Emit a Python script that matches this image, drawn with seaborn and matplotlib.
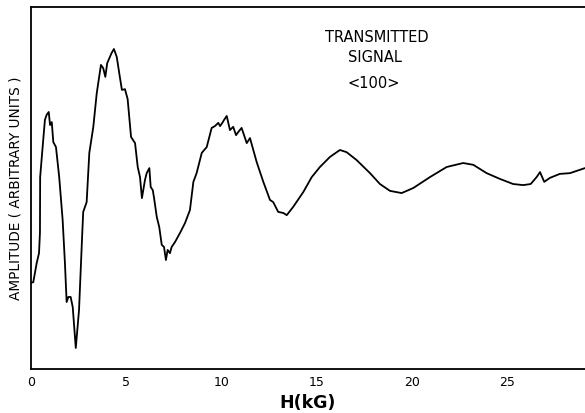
import matplotlib
matplotlib.use("Agg")
import matplotlib.pyplot as plt
import seaborn as sns
import pandas as pd

field_kg = [0.00, 0.12, 0.30, 0.42, 0.47, 0.48, 0.61, 0.73, 0.82, 0.93, 1.00, 1.09, 1.17, 1.31,
            1.48, 1.66, 1.78, 1.87, 1.96, 2.08, 2.19, 2.35, 2.52, 2.69, 2.74, 2.92, 3.06, 3.27,
            3.45, 3.67, 3.79, 3.90, 4.00, 4.23, 4.35, 4.50, 4.67, 4.77, 4.93, 5.07, 5.25, 5.46,
            5.60, 5.72, 5.82, 5.98, 6.07, 6.21, 6.28, 6.39, 6.45, 6.60, 6.73, 6.86, 6.98, 7.08,
            7.17, 7.29, 7.38, 7.56, 7.82, 8.08, 8.34, 8.52, 8.69, 8.96, 9.22, 9.48, 9.65, 9.83,
            9.92, 10.04, 10.13, 10.27, 10.44, 10.61, 10.76, 10.88, 11.05, 11.32, 11.49, 11.84,
            12.19, 12.54, 12.71, 12.97, 13.24, 13.42, 13.76, 14.29, 14.73, 15.16, 15.69, 16.21,
            16.56, 17.09, 17.79, 18.31, 18.84, 19.45, 20.06, 20.93, 21.81, 22.68, 23.21, 23.91,
            24.61, 25.30, 25.83, 26.22, 26.53, 26.71, 26.93, 27.23, 27.75, 28.28, 29.07]

amplitude = [23.8, 24.0, 29.3, 32.0, 37.6, 53.0, 61.3, 68.8, 70.2, 71.0, 67.4, 68.2, 62.7, 61.3,
             53.0, 41.2, 29.3, 18.5, 19.9, 19.9, 17.1, 5.8, 16.3, 37.6, 43.4, 46.1, 59.7, 66.9,
             76.2, 84.0, 83.1, 80.7, 84.5, 87.3, 88.4, 86.2, 80.4, 77.1, 77.3, 74.6, 64.1, 62.4,
             55.8, 53.0, 47.2, 52.2, 54.1, 55.5, 50.3, 49.4, 47.5, 42.0, 39.2, 34.3, 33.7, 30.1,
             32.9, 32.0, 33.7, 35.1, 37.6, 40.3, 43.9, 51.7, 54.1, 59.7, 61.3, 66.6, 67.1, 68.0,
             67.1, 68.0, 68.8, 69.9, 66.0, 66.9, 64.6, 65.5, 66.6, 62.4, 63.8, 57.2, 51.7, 46.7,
             46.1, 43.4, 43.1, 42.5, 44.8, 48.9, 53.0, 55.8, 58.6, 60.5, 59.9, 57.7, 54.1, 51.1,
             49.2, 48.6, 50.0, 53.0, 55.8, 56.9, 56.4, 54.1, 52.5, 51.1, 50.8, 51.1, 53.0, 54.4,
             51.7, 52.8, 53.9, 54.1, 55.5]

x_ticks = [0, 5, 10, 15, 20, 25]
x_label = "H(kG)"
y_label = "AMPLITUDE ( ARBITRARY UNITS )"
annotation_lines = ["TRANSMITTED", "SIGNAL", "<100>"]

df = pd.DataFrame({"H": field_kg, "A": amplitude})

sns.set_style("white")
plt.rcParams["font.family"] = ["DejaVu Sans"]
plt.rcParams["text.color"] = "black"
plt.rcParams["axes.labelcolor"] = "black"
plt.rcParams["xtick.color"] = "black"

fig = plt.figure(figsize=(5.85, 4.13), dpi=100)
ax = fig.add_axes([31 / 585, 1 - 369 / 413, 1 - 31 / 585, (369 - 7) / 413])

sns.lineplot(data=df, x="H", y="A", estimator=None, sort=False, color="black",
             linewidth=1.3, ax=ax)

ax.set_xlim(0, 29.07)
ax.set_ylim(0, 100)
ax.set_xticks(x_ticks)
ax.set_xticklabels([str(t) for t in x_ticks], fontsize=9)
ax.set_yticks([])
ax.tick_params(axis="x", direction="in", length=5, width=1.2, pad=5, colors="black")
ax.set_xlabel(x_label, fontsize=12.5, fontweight="bold", labelpad=4)
ax.set_ylabel(y_label, fontsize=9.8, labelpad=6)

for side in ["left", "bottom", "top"]:
    ax.spines[side].set_visible(True)
    ax.spines[side].set_color("black")
    ax.spines[side].set_linewidth(1.3)
ax.spines["right"].set_visible(False)

ax.text(18.15, 91.7, annotation_lines[0], ha="center", va="center", fontsize=10.5)
ax.text(18.05, 86.0, annotation_lines[1], ha="center", va="center", fontsize=10.5)
ax.text(18.0, 79.0, annotation_lines[2], ha="center", va="center", fontsize=10.5)

fig.savefig("out.png", dpi=100)
